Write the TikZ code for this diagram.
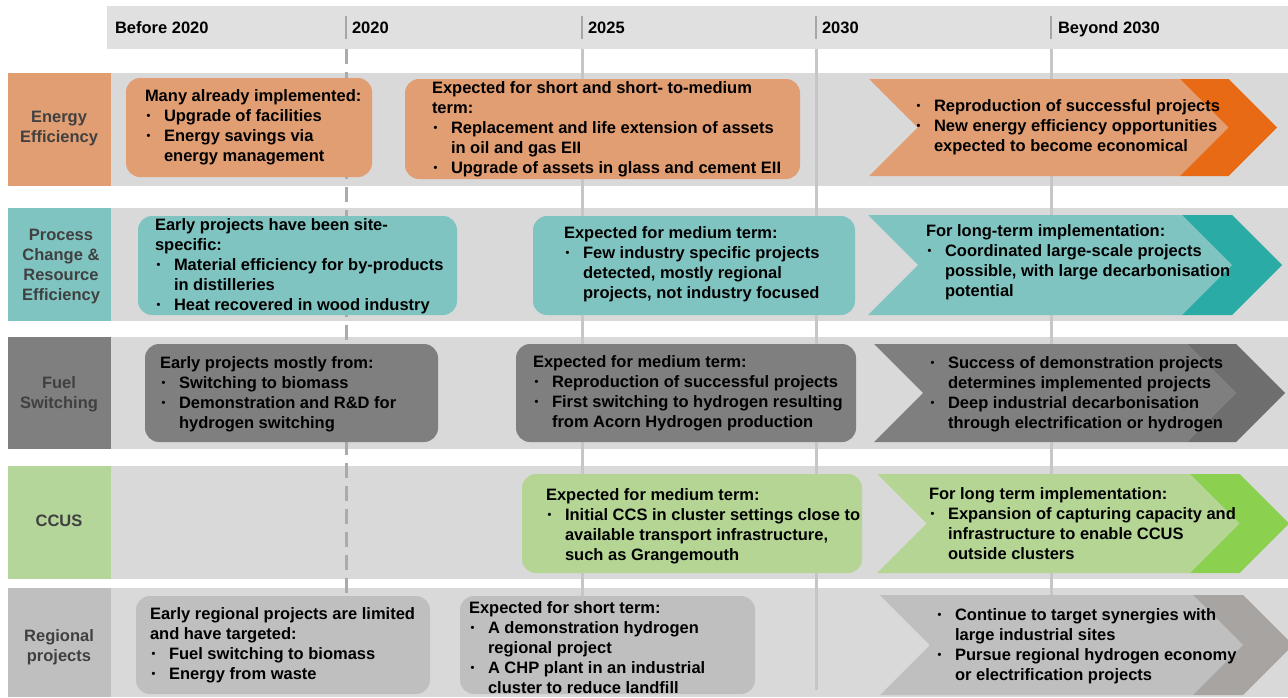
\documentclass[tikz,border=0pt]{standalone}
\usepackage{fontspec}
\setmainfont{Liberation Sans}
\definecolor{hdr}{HTML}{E0E0E0}
\definecolor{band}{HTML}{D9D9D9}
\definecolor{tick}{HTML}{A6A6A6}
\definecolor{vline}{HTML}{C6C6C6}
\definecolor{dline}{HTML}{ABABAB}
\definecolor{labtxt}{HTML}{404040}
\definecolor{eeL}{HTML}{E29E73}
\definecolor{eeD}{HTML}{E86A14}
\definecolor{pcL}{HTML}{80C4C1}
\definecolor{pcD}{HTML}{2BABA6}
\definecolor{fsL}{HTML}{7F7F7F}
\definecolor{fsD}{HTML}{6E6E6E}
\definecolor{ccL}{HTML}{B5D595}
\definecolor{ccD}{HTML}{8CD04F}
\definecolor{ccLab}{HTML}{B4D69A}
\definecolor{rpL}{HTML}{BFBFBF}
\definecolor{rpD}{HTML}{A7A4A1}
\newcommand\bl{\makebox[19pt][l]{\hspace{1.5pt}\raisebox{1.2pt}{\fontsize{11}{11}\selectfont\textbullet}}}
\newcommand\ind{\hspace*{19pt}}
\newcommand\st{\rule{0pt}{13pt}}
% chevron: #1 left x, #2 top, #3 bottom, #4 dark start x, #5 light colour, #6 dark colour
\newcommand\mychev[6]{%
  \pgfmathsetmacro\hh{(#3-#2)/2}%
  \pgfmathsetmacro\mm{(#3+#2)/2}%
  \fill[#5] (#1,#2) -- (#4,#2) -- ({#4+\hh},\mm) -- (#4,#3) -- (#1,#3) -- ({#1+\hh},\mm) -- cycle;
  \fill[#6] (#4,#2) -- ({#4+\hh},#2) -- ({#4+2*\hh},\mm) -- ({#4+\hh},#3) -- (#4,#3) -- ({#4+\hh},\mm) -- cycle;
}
\begin{document}
\begin{tikzpicture}[x=1pt,y=-1pt,
  every node/.style={font=\fontsize{16.5}{20}\selectfont\bfseries},
  txt/.style={anchor=north west, inner sep=0, outer sep=0, align=left, text=black},
  lab/.style={anchor=north, inner sep=0, outer sep=0, align=center, text=labtxt},
  hd/.style={anchor=north west, inner sep=0, outer sep=0, text=black},
  bx/.style={rectangle, rounded corners=14pt, inner sep=0, outer sep=0, anchor=north west},
  lbox/.style={rectangle, inner sep=0, outer sep=0, anchor=north west, minimum width=103pt}]
\clip (0,0) rectangle (1288,697);
\fill[white] (0,0) rectangle (1288,697);

% header
\fill[hdr] (107,6) rectangle (1288,49);
\foreach \x in {346,582,816,1051} \draw[tick, line width=2.5pt] (\x,16) -- (\x,39);
\node[hd] (h1) at (115,20) {\st Before 2020};
\node[hd] (h2) at (352,20) {\st 2020};
\node[hd] (h3) at (588,20) {\st 2025};
\node[hd] (h4) at (822,20) {\st 2030};
\node[hd] (h5) at (1058,20) {\st Beyond 2030};

% bands
\fill[band] (111,73) rectangle (1288,186);
\fill[band] (111,208) rectangle (1288,321);
\fill[band] (111,337) rectangle (1288,449);
\fill[band] (111,466) rectangle (1288,579);
\fill[band] (111,588) rectangle (1288,697);

% label boxes
\node[lbox, fill=eeL, minimum height=113pt] (l1) at (8,73) {};
\node[lbox, fill=pcL, minimum height=113pt] (l2) at (8,208) {};
\node[lbox, fill=fsL, minimum height=112pt] (l3) at (8,337) {};
\node[lbox, fill=ccLab, minimum height=113pt] (l4) at (8,466) {};
\node[lbox, fill=rpL, minimum height=109pt] (l5) at (8,588) {};
\node[lab] (t1) at (59,109) {\st Energy\\Efficiency};
\node[lab] (t2) at (61,227) {\st Process\\Change \&\\Resource\\Efficiency};
\node[lab] (t3) at (59,375) {\st Fuel\\Switching};
\node[lab] (t4) at (59,513) {\st CCUS};
\node[lab] (t5) at (59,628) {\st Regional\\projects};

% vertical time lines
\draw[dline, line width=3pt, dash pattern=on 15pt off 8pt] (346,49) -- (346,690);
\foreach \x in {582,816,1051} \draw[vline, line width=3pt] (\x,49) -- (\x,690);

% Row 1: Energy Efficiency
\node[bx, fill=eeL, minimum width=246pt, minimum height=99pt] (e1) at (126,78) {};
\node[bx, fill=eeL, minimum width=395pt, minimum height=100pt] (e2) at (405,79) {};
\mychev{869}{79}{176}{1180}{eeL}{eeD}
\node[txt] (e1t) at (145,88) {\st Many already implemented:\\ \bl Upgrade of facilities\\ \bl Energy savings via\\ \ind energy management};
\node[txt] (e2t) at (432,80) {\st Expected for short and short- to-medium\\term:\\ \bl Replacement and life extension of assets\\ \ind in oil and gas EII\\ \bl Upgrade of assets in glass and cement EII};
\node[txt] (e3t) at (915,98) {\st \bl Reproduction of successful projects\\ \bl New energy efficiency opportunities\\ \ind expected to become economical};

% Row 2: Process Change
\node[bx, fill=pcL, minimum width=319pt, minimum height=99pt] (p1) at (138,216) {};
\node[bx, fill=pcL, minimum width=322pt, minimum height=99pt] (p2) at (533,216) {};
\mychev{868}{215}{315}{1182}{pcL}{pcD}
\node[txt] (p1t) at (155,217) {\st Early projects have been site-\\specific:\\ \bl Material efficiency for by-products\\ \ind in distilleries\\ \bl Heat recovered in wood industry};
\node[txt] (p2t) at (564,225) {\st Expected for medium term:\\ \bl Few industry specific projects\\ \ind detected, mostly regional\\ \ind projects, not industry focused};
\node[txt] (p3t) at (926,223) {\st For long-term implementation:\\ \bl Coordinated large-scale projects\\ \ind possible, with large decarbonisation\\ \ind potential};

% Row 3: Fuel Switching
\node[bx, fill=fsL, minimum width=293pt, minimum height=98pt] (f1) at (145,344) {};
\node[bx, fill=fsL, minimum width=340pt, minimum height=98pt] (f2) at (516,344) {};
\mychev{874}{344}{442}{1187}{fsL}{fsD}
\node[txt] (f1t) at (160,355) {\st Early projects mostly from:\\ \bl Switching to biomass\\ \bl Demonstration and R\&D for\\ \ind hydrogen switching};
\node[txt] (f2t) at (533,354) {\st Expected for medium term:\\ \bl Reproduction of successful projects\\ \bl First switching to hydrogen resulting\\ \ind from Acorn Hydrogen production};
\node[txt] (f3t) at (929,355) {\st \bl Success of demonstration projects\\ \ind determines implemented projects\\ \bl Deep industrial decarbonisation\\ \ind through electrification or hydrogen};

% Row 4: CCUS
\node[bx, fill=ccL, minimum width=340pt, minimum height=99pt] (c1) at (522,474) {};
\mychev{877}{474}{573}{1190}{ccL}{ccD}
\node[txt] (c1t) at (546,487) {\st Expected for medium term:\\ \bl Initial CCS in cluster settings close to\\ \ind available transport infrastructure,\\ \ind such as Grangemouth};
\node[txt] (c2t) at (929,486) {\st For long term implementation:\\ \bl Expansion of capturing capacity and\\ \ind infrastructure to enable CCUS\\ \ind outside clusters};

% Row 5: Regional projects
\node[bx, fill=rpL, minimum width=294pt, minimum height=98pt] (r1) at (136,596) {};
\node[bx, fill=rpL, minimum width=295pt, minimum height=98pt] (r2) at (460,596) {};
\mychev{880}{595}{695}{1193}{rpL}{rpD}
\node[txt] (r1t) at (150,606) {\st Early regional projects are limited\\and have targeted:\\ \bl Fuel switching to biomass\\ \bl Energy from waste};
\node[txt] (r2t) at (469,600) {\st Expected for short term:\\ \bl A demonstration hydrogen\\ \ind regional project\\ \bl A CHP plant in an industrial\\ \ind cluster to reduce landfill};
\node[txt] (r3t) at (936,607) {\st \bl Continue to target synergies with\\ \ind large industrial sites\\ \bl Pursue regional hydrogen economy\\ \ind or electrification projects};
\end{tikzpicture}
\end{document}
